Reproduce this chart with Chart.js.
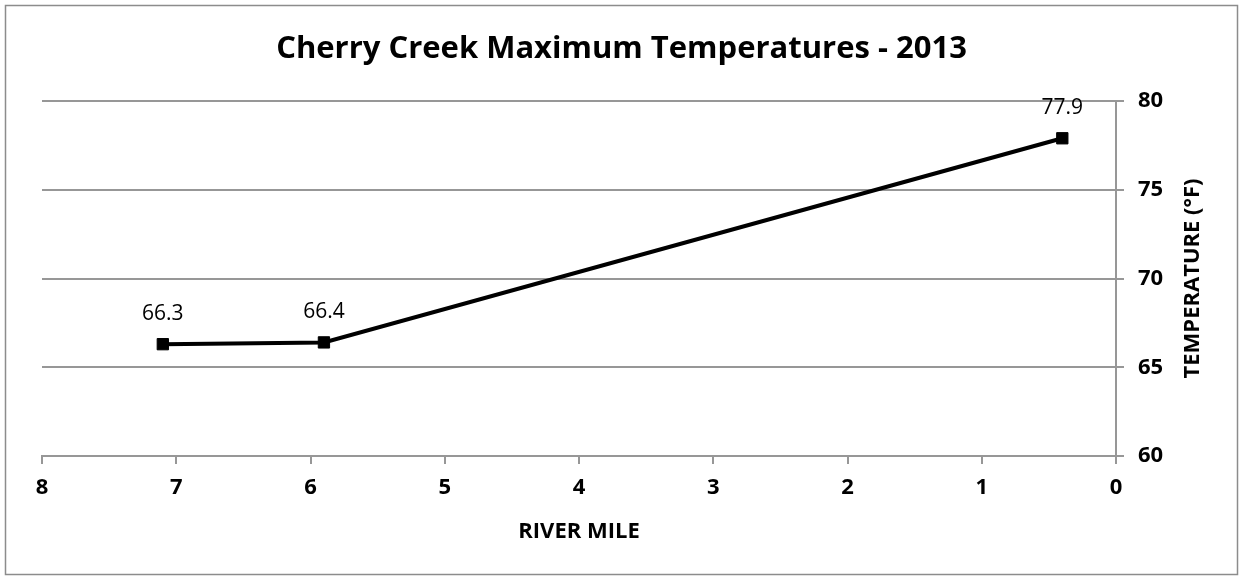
<!DOCTYPE html>
<html>
<head>
<meta charset="utf-8">
<script src="https://cdn.jsdelivr.net/npm/chart.js@4"></script>
<style>
  html, body { margin: 0; padding: 0; background: #fff; }
  #wrap { width: 1243px; height: 579px; }
</style>
</head>
<body>
<div id="wrap"><canvas id="temp-graph"></canvas></div>
<script>
// river mile of each station and its max temperature
const riverMiles = [7.1, 5.9, 0.4];
const maxTemps = [66.3, 66.4, 77.9];
const xTicks = [0, 1, 2, 3, 4, 5, 6, 7, 8];
const yTicks = [60, 65, 70, 75, 80];

const FONT = "'Open Sans', sans-serif";
const GRID = '#979797';

// frame, title, rotated y title and point labels
const extras = {
    id: 'extras',
    beforeDraw(chart) {
        const ctx = chart.ctx;
        ctx.save();
        ctx.fillStyle = '#fff';
        ctx.fillRect(0, 0, chart.width, chart.height);
        ctx.strokeStyle = '#8c8c8c';
        ctx.lineWidth = 1.5;
        ctx.strokeRect(5.5, 5.5, chart.width - 11, chart.height - 10);
        ctx.restore();
    },
    afterDraw(chart) {
        const ctx = chart.ctx;
        const area = chart.chartArea;
        ctx.save();
        ctx.fillStyle = '#000';
        ctx.textAlign = 'center';

        ctx.textBaseline = 'alphabetic';
        ctx.font = 'bold 31px ' + FONT;
        ctx.fillText('Cherry Creek Maximum Temperatures - 2013', chart.width / 2, 58);

        ctx.textBaseline = 'middle';
        ctx.font = 'bold 22px ' + FONT;
        ctx.save();
        ctx.translate(1193, (area.top + area.bottom) / 2);
        ctx.rotate(-Math.PI / 2);
        ctx.fillText('TEMPERATURE (°F)', 0, 0);
        ctx.restore();

        ctx.textBaseline = 'alphabetic';
        ctx.font = '21px ' + FONT;
        const meta = chart.getDatasetMeta(0);
        meta.data.forEach((pt, i) => {
            ctx.fillText(maxTemps[i].toFixed(1), pt.x, pt.y - 24);
        });
        ctx.restore();
    }
};

const canvas = document.getElementById('temp-graph');
const temp_graph = new Chart(canvas, {
    type: 'line',
    data: {
        datasets: [
            {
                label: 'Max Temp',
                data: riverMiles.map((m, i) => ({ x: m, y: maxTemps[i] })),
                borderColor: '#000',
                backgroundColor: '#000',
                borderWidth: 4,
                pointStyle: 'rect',
                pointRadius: 8,
                pointBorderWidth: 1,
                tension: 0,
            },
        ]
    },
    options: {
        responsive: true,
        maintainAspectRatio: false,
        animation: false,
        layout: { padding: { left: 42, top: 101, right: 0, bottom: 0 } },
        plugins: {
            legend: { display: false },
            tooltip: { enabled: false },
        },
        scales: {
            x: {
                type: 'linear',
                reverse: true,
                min: 0,
                max: 8,
                afterBuildTicks(scale) { scale.ticks = xTicks.map(v => ({ value: v })); },
                afterFit(scale) { scale.height = 123; },
                grid: { drawOnChartArea: false, color: GRID, lineWidth: 2, tickLength: 8 },
                border: { color: GRID, width: 2 },
                ticks: { color: '#000', padding: 11, font: { family: FONT, size: 22, weight: 'bold' } },
                title: {
                    display: true,
                    text: 'RIVER MILE',
                    color: '#000',
                    padding: { top: 0, bottom: 34 },
                    font: { family: FONT, size: 22, weight: 'bold' }
                },
            },
            y: {
                position: 'right',
                min: 60,
                max: 80,
                afterBuildTicks(scale) { scale.ticks = yTicks.map(v => ({ value: v })); },
                afterFit(scale) { scale.width = 127; },
                grid: { color: GRID, lineWidth: 2, tickLength: 8 },
                border: { color: GRID, width: 2 },
                ticks: { color: '#000', padding: 14, font: { family: FONT, size: 22, weight: 'bold' } },
            },
        },
    },
    plugins: [extras],
});
</script>
</body>
</html>
